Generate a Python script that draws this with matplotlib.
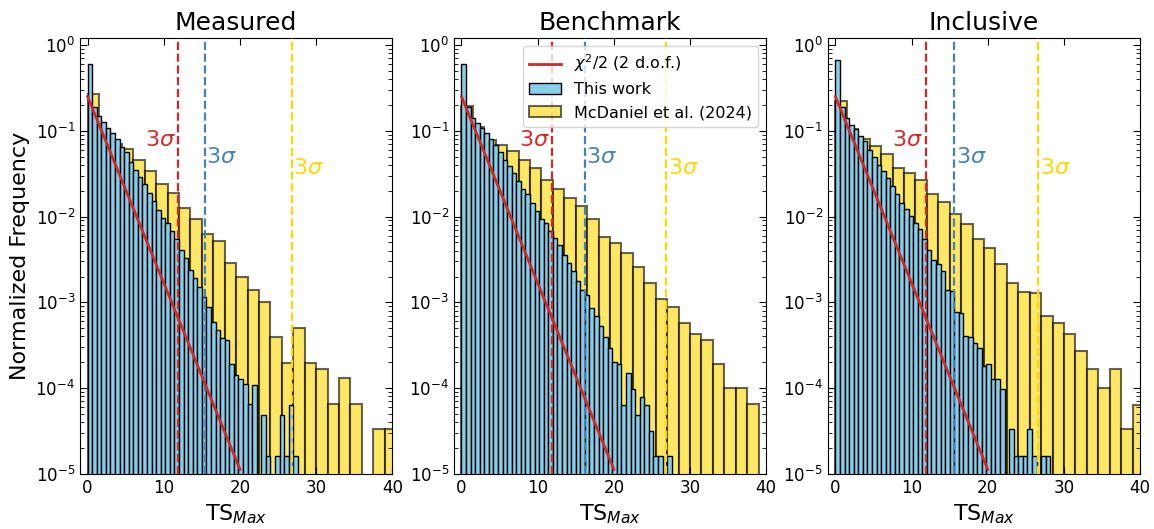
import numpy as np
import matplotlib
matplotlib.use("Agg")
import matplotlib.pyplot as plt

# panel titles and 3-sigma thresholds (TS)
titles = ["Measured", "Benchmark", "Inclusive"]
sig_chi2 = [11.83, 11.83, 11.83]
sig_this = [15.4, 16.2, 15.6]
sig_mcd = [26.8, 26.9, 26.6]

blue_width = 0.6
yellow_width = 1.5

# "This work" normalized frequency, bins of 0.6 starting at 0
this_measured = [0.60, 0.19, 0.148, 0.126, 0.108, 0.095, 0.080, 0.065, 0.056, 0.043,
                 0.035, 0.029, 0.024, 0.019, 0.015, 0.012, 0.0096, 0.0084, 0.0067, 0.0054,
                 0.0041, 0.0033, 0.0024, 0.0019, 0.0015, 0.00115, 0.00089, 0.00059, 0.00048, 0.00038,
                 0.00036, 0.000193, 0.000142, 0.000128, 0.000113, 6.5e-5, 1.1e-4, 0, 4.9e-5, 1.6e-5,
                 0, 1.6e-5, 4.9e-5, 1.6e-5, 6.4e-5, 1.6e-5]
this_benchmark = [0.60, 0.19, 0.141, 0.123, 0.108, 0.095, 0.080, 0.069, 0.056, 0.046,
                  0.0385, 0.0322, 0.0258, 0.0211, 0.0181, 0.0145, 0.0115, 0.0093, 0.0085, 0.0067,
                  0.0056, 0.0047, 0.0036, 0.00287, 0.00233, 0.00175, 0.00141, 0.00123, 0.00086, 0.00069,
                  0.00053, 0.00039, 0.000296, 0.000204, 0.000193, 6.3e-5, 0.00015, 9.7e-5, 4.9e-5, 7.9e-5,
                  6.3e-5, 3.2e-5, 1.6e-5, 1.6e-5, 0, 1.6e-5]
this_inclusive = [0.665, 0.19, 0.141, 0.118, 0.105, 0.086, 0.075, 0.059, 0.050, 0.040,
                  0.034, 0.028, 0.0226, 0.0181, 0.0145, 0.0121, 0.0101, 0.0085, 0.0071, 0.0054,
                  0.0041, 0.0031, 0.0028, 0.0023, 0.00141, 0.00135, 0.00078, 0.00075, 0.0004, 0.00039,
                  0.00034, 0.00029, 0.00018, 0.00019, 0.000128, 0.000128, 9.7e-5, 0, 3.3e-5, 1.6e-5,
                  1.6e-5, 1.6e-5, 3.3e-5, 1.6e-5, 0, 1.6e-5, 1.6e-5]

# McDaniel et al. (2024) normalized frequency, bins of 1.5 starting at 0
mcd_measured = [0.27, 0.105, 0.07, 0.0616, 0.046, 0.0337, 0.0242, 0.0188, 0.0127, 0.0093,
                0.0062, 0.0052, 0.0029, 0.0020, 0.00138, 0.00102, 0.000395, 0.000198, 0.000505, 0.000198,
                0.000165, 6.5e-5, 0.00013, 6.5e-5, 0, 3.3e-5, 3.3e-5]
mcd_benchmark = [0.193, 0.11, 0.078, 0.069, 0.0575, 0.046, 0.037, 0.027, 0.021, 0.0164,
                 0.0133, 0.0094, 0.0058, 0.0049, 0.0038, 0.0026, 0.00168, 0.00109, 0.00089, 0.00057,
                 0.00043, 0.00036, 0.000193, 0.0001, 0.0001, 6.5e-5]
mcd_inclusive = [0.221, 0.105, 0.08, 0.067, 0.053, 0.037, 0.032, 0.027, 0.0185, 0.0147,
                 0.0108, 0.0081, 0.0055, 0.0043, 0.0028, 0.00168, 0.00131, 0.00129, 0.00069, 0.00058,
                 0.00043, 0.00027, 0.000165, 0.0001, 0.000165, 3.3e-5, 6.3e-5]

# chi2/2 reference line (straight on log axis)
chi2_x = [0, 20]
chi2_y = [0.25, 1.13e-5]

this_all = [this_measured, this_benchmark, this_inclusive]
mcd_all = [mcd_measured, mcd_benchmark, mcd_inclusive]

fig, axes = plt.subplots(1, 3, figsize=(11.54, 5.29), dpi=100)
fig.subplots_adjust(left=0.0693, right=0.988, top=0.928, bottom=0.104, wspace=0.197)

for i, ax in enumerate(axes):
    yv = np.array(mcd_all[i])
    ye = np.arange(len(yv)) * yellow_width
    ax.bar(ye, yv, width=yellow_width, align='edge', color='gold', alpha=0.6,
           edgecolor='black', linewidth=1.5, zorder=1, label='McDaniel et al. (2024)')
    bv = np.array(this_all[i])
    be = np.arange(len(bv)) * blue_width
    ax.bar(be, bv, width=blue_width, align='edge', color='skyblue',
           edgecolor='black', linewidth=1.0, zorder=2, label='This work')
    ax.plot(chi2_x, chi2_y, color='tab:red', lw=2, zorder=4, label=r'$\chi^2/2$ (2 d.o.f.)')

    ax.axvline(sig_chi2[i], color='tab:red', ls='--', lw=1.6, zorder=3)
    ax.axvline(sig_this[i], color='steelblue', ls='--', lw=1.6, zorder=3)
    ax.axvline(sig_mcd[i], color='gold', ls='--', lw=1.6, zorder=3)
    ax.text(sig_chi2[i] - 0.3, 0.077, r'$3\sigma$', color='tab:red', fontsize=16,
            ha='right', va='center')
    ax.text(sig_this[i] + 0.2, 0.049, r'$3\sigma$', color='steelblue', fontsize=16,
            ha='left', va='center')
    ax.text(sig_mcd[i] + 0.2, 0.037, r'$3\sigma$', color='gold', fontsize=16,
            ha='left', va='center')

    ax.set_yscale('log')
    ax.set_ylim(1e-5, 1.2)
    ax.set_xlim(-1, 40)
    ax.set_xticks([0, 10, 20, 30, 40])
    ax.tick_params(which='both', direction='in', top=True, right=True, labelsize=12)
    ax.tick_params(which='major', length=5)
    ax.tick_params(which='minor', length=3)
    ax.set_title(titles[i], fontsize=18)
    ax.set_xlabel(r'TS$_{Max}$', fontsize=16)

axes[0].set_ylabel('Normalized Frequency', fontsize=16)

h, l = axes[1].get_legend_handles_labels()
order = [l.index(r'$\chi^2/2$ (2 d.o.f.)'), l.index('This work'), l.index('McDaniel et al. (2024)')]
axes[1].legend([h[k] for k in order], [l[k] for k in order], loc='upper right',
               fontsize=11.5, framealpha=0.8)

fig.savefig('out.png', dpi=100)
